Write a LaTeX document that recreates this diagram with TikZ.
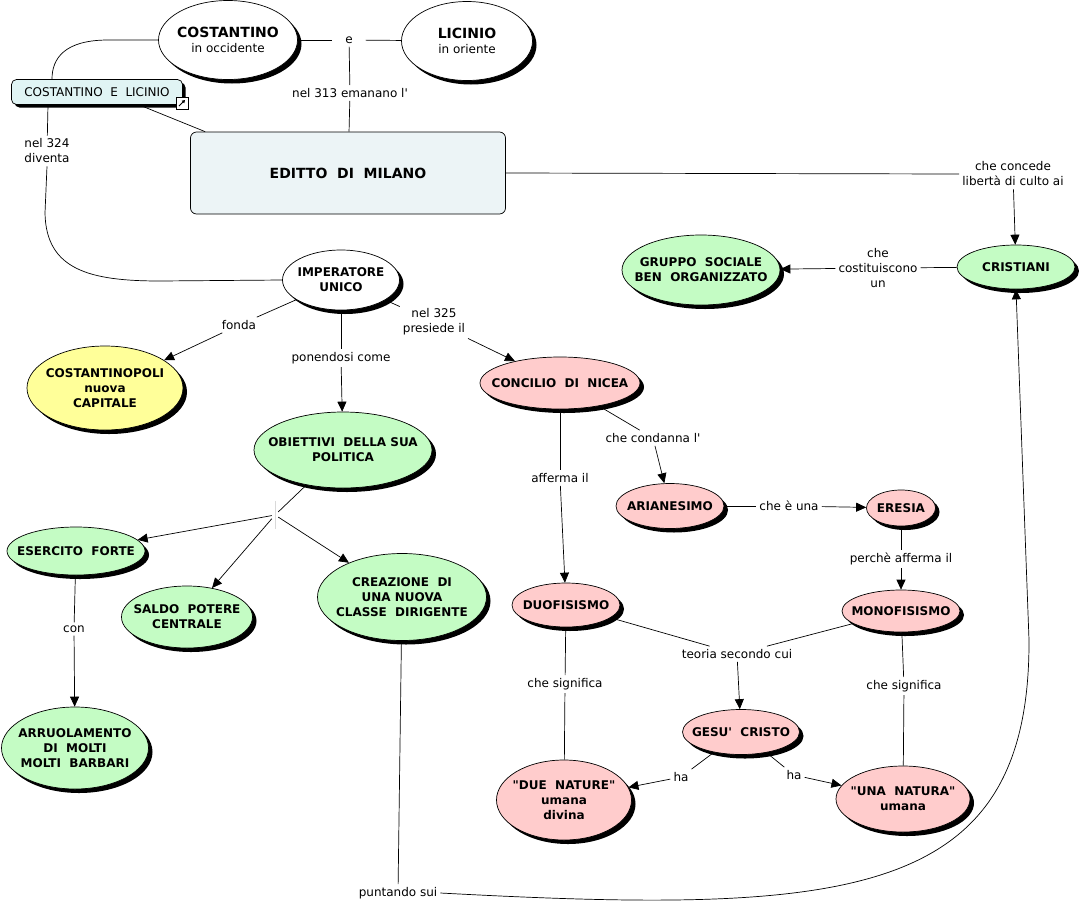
\documentclass[tikz,border=0pt]{standalone}
\usepackage{fontspec}
\setmainfont{DejaVu Sans}[Ligatures=TeXOff]
\usepackage{tikz}
\usetikzlibrary{arrows.meta}
\usetikzlibrary{positioning}
\usetikzlibrary{shapes.geometric}
\usetikzlibrary{shadows}
\definecolor{verde}{RGB}{196,252,196}
\definecolor{rosa}{RGB}{255,204,204}
\definecolor{giallo}{RGB}{255,255,153}
\definecolor{azzurro}{RGB}{236,244,246}
\definecolor{celeste}{RGB}{224,244,244}
\tikzset{>={Triangle[length=10pt,width=9pt]}}
\tikzset{
    link/.style = {line width=0.7pt},
    vis/.style = {link,->},
}
\newcommand\shadowoff{4pt}
\tikzset{
    phrase/.style={font=\fontsize{12}{15}\selectfont, align=center, inner sep=3pt},
    concept/.style={ellipse, draw, line width=0.7pt, font=\bfseries\fontsize{12}{15}\selectfont, align=center, inner sep=-100pt,
        drop shadow={shadow xshift=\shadowoff, shadow yshift=-\shadowoff, fill=black, opacity=1}},
    mapbox/.style={rectangle, rounded corners=6pt, draw, line width=0.7pt, align=center},
    dims/.style 2 args={minimum width=#1, minimum height=#2},
    big/.style={font=\bfseries\fontsize{14}{17}\selectfont},
}
\begin{document}
\begin{tikzpicture}[x=1pt,y=-1pt]
\useasboundingbox (0,0) rectangle (1079,908);
% concetti
\node[concept, fill=white, dims={139pt}{79pt}] (cost) at (228,40) {{\fontsize{14}{17}\selectfont COSTANTINO}\\{\mdseries in occidente}};
\node[concept, fill=white, dims={131pt}{79pt}] (lic) at (467,41) {{\fontsize{14}{17}\selectfont LICINIO}\\{\mdseries in oriente}};
\node[mapbox, rounded corners=5pt, fill=celeste, dims={171pt}{25pt}, phrase,
    drop shadow={shadow xshift=3pt, shadow yshift=-3pt, fill=black, opacity=1}] (cel) at (97,92) {COSTANTINO~~E~~LICINIO};
\node[mapbox, fill=azzurro, dims={315pt}{82pt}, big] (editto) at (348,173) {EDITTO~~DI~~MILANO};
\node[concept, fill=white, dims={117pt}{60pt}] (imp) at (341,280) {IMPERATORE\\UNICO};
\node[concept, fill=giallo, dims={156pt}{84pt}] (cpoli) at (105,388) {COSTANTINOPOLI\\nuova\\CAPITALE};
\node[concept, fill=verde, dims={178pt}{76pt}] (obj) at (343,450) {OBIETTIVI~~DELLA SUA\\POLITICA};
\node[concept, fill=rosa, dims={160pt}{52pt}] (conc) at (560,383) {CONCILIO~~DI~~NICEA};
\node[concept, fill=verde, dims={158pt}{70pt}] (grup) at (701,270) {GRUPPO~~SOCIALE\\BEN~~ORGANIZZATO};
\node[concept, fill=verde, dims={118pt}{44pt}] (cris) at (1016,267) {CRISTIANI};
\node[concept, fill=rosa, dims={108pt}{45pt}] (arian) at (670,506) {ARIANESIMO};
\node[concept, fill=rosa, dims={69pt}{36pt}] (eres) at (901,508) {ERESIA};
\node[concept, fill=verde, dims={138pt}{48pt}] (eserc) at (76,551) {ESERCITO~~FORTE};
\node[concept, fill=verde, dims={131pt}{62pt}] (saldo) at (187,617) {SALDO~~POTERE\\CENTRALE};
\node[concept, fill=verde, dims={169pt}{87pt}] (crea) at (402,597) {CREAZIONE~~DI\\UNA NUOVA\\CLASSE~~DIRIGENTE};
\node[concept, fill=verde, dims={147pt}{82pt}] (arru) at (75,748) {ARRUOLAMENTO\\DI~~MOLTI\\MOLTI~~BARBARI};
\node[concept, fill=rosa, dims={108pt}{44pt}] (duo) at (566,605) {DUOFISISMO};
\node[concept, fill=rosa, dims={118pt}{42pt}] (mono) at (901,611) {MONOFISISMO};
\node[concept, fill=rosa, dims={117pt}{45pt}] (gesu) at (741,732) {GESU'~~CRISTO};
\node[concept, fill=rosa, dims={135pt}{80pt}] (due) at (564,800) {"DUE~~NATURE"\\umana\\divina};
\node[concept, fill=rosa, dims={134pt}{66pt}] (una) at (903,799) {"UNA~~NATURA"\\umana};
% icona del collegamento
\draw[fill=white, line width=0.7pt] (176,97) rectangle (188,109);
\draw[line width=1pt, -{Triangle[length=3pt,width=3.5pt]}] (179,106) -- (185,100);
% frasi di collegamento
\node[phrase, minimum width=33pt] (e) at (349,40) {e};
\node[phrase] (l313) at (350,93) {nel 313 emanano l'};
\node[phrase] (l324) at (47,151) {nel 324\\diventa};
\node[phrase] (lconc) at (1013,174) {che concede\\libertà di culto ai};
\node[phrase] (lcost) at (878,268) {che\\costituiscono\\un};
\node[phrase] (fonda) at (239,325) {fonda};
\node[phrase] (pon) at (341,358) {ponendosi come};
\node[phrase] (l325) at (434,322) {nel 325\\presiede il};
\node[phrase] (aff) at (560,478) {afferma il};
\node[phrase] (cond) at (653,438) {che condanna l'};
\node[phrase] (cheuna) at (789,506) {che è una};
\node[phrase] (perche) at (901,559) {perchè afferma il};
\node[phrase] (teoria) at (737,654) {teoria secondo cui};
\node[phrase] (sig1) at (565,684) {che significa};
\node[phrase] (sig2) at (904,686) {che significa};
\node[phrase] (ha1) at (681,777) {ha};
\node[phrase] (ha2) at (794,775) {ha};
\node[phrase] (con) at (74,629) {con};
\node[phrase] (punt) at (398,893) {puntando sui};
\node[inner sep=0pt, dims={6pt}{28pt}] (jn) at (275,515) {};
\draw[gray!30] (jn.north) -- (jn.south);
% collegamenti
\draw[link] (cost) -- (e);
\draw[link] (e) -- (lic);
\draw[link] (e) -- (l313);
\draw[link] (l313) -- (editto);
\draw[link] (cost.west) -- ++(-50,0) .. controls (65,40) and (52,58) .. ([xshift=-45pt]cel.north);
\draw[link] ([xshift=-49pt]cel.south) -- (l324);
\draw[link] (l324.south) -- (45,213) .. controls (46,270) and (90,281) .. (160,281) -- (imp.west);
\draw[link] ([xshift=42pt]cel.south) -- ([xshift=15pt]editto.north west);
\draw[link] (editto.east) -- (lconc.west);
\draw[vis] (lconc) -- (cris);
\draw[link] (cris) -- (lcost);
\draw[vis] (lcost) -- (grup);
\draw[link] (imp) -- (fonda);
\draw[vis] (fonda) -- (cpoli);
\draw[link] (imp) -- (pon);
\draw[vis] (pon) -- (obj);
\draw[link] (imp) -- (l325);
\draw[vis] (l325) -- (conc);
\draw[link] (conc) -- (aff);
\draw[vis] (aff) -- (duo);
\draw[link] (conc) -- (cond);
\draw[vis] (cond) -- (arian);
\draw[link] (arian) -- (cheuna);
\draw[vis] (cheuna) -- (eres);
\draw[link] (eres) -- (perche);
\draw[vis] (perche) -- (mono);
\draw[link] (duo) -- (teoria);
\draw[link] (mono) -- (teoria);
\draw[vis] (teoria) -- (gesu);
\draw[link] (duo) -- (sig1);
\draw[link] (sig1) -- (due);
\draw[link] (mono) -- (sig2);
\draw[link] (sig2) -- (una);
\draw[link] (gesu) -- (ha1);
\draw[vis] (ha1) -- (due);
\draw[link] (gesu) -- (ha2);
\draw[vis] (ha2) -- (una);
\draw[link] (obj) -- (jn);
\draw[vis] (jn) -- (eserc);
\draw[vis] (jn) -- (saldo);
\draw[vis] (jn) -- (crea);
\draw[link] (eserc) -- (con);
\draw[vis] (con) -- (arru);
\draw[link] (crea) -- (punt);
\draw[vis] (punt.east) .. controls (850,915) and (1030,900) .. (1029,640) -- (cris.south);
\end{tikzpicture}
\end{document}
